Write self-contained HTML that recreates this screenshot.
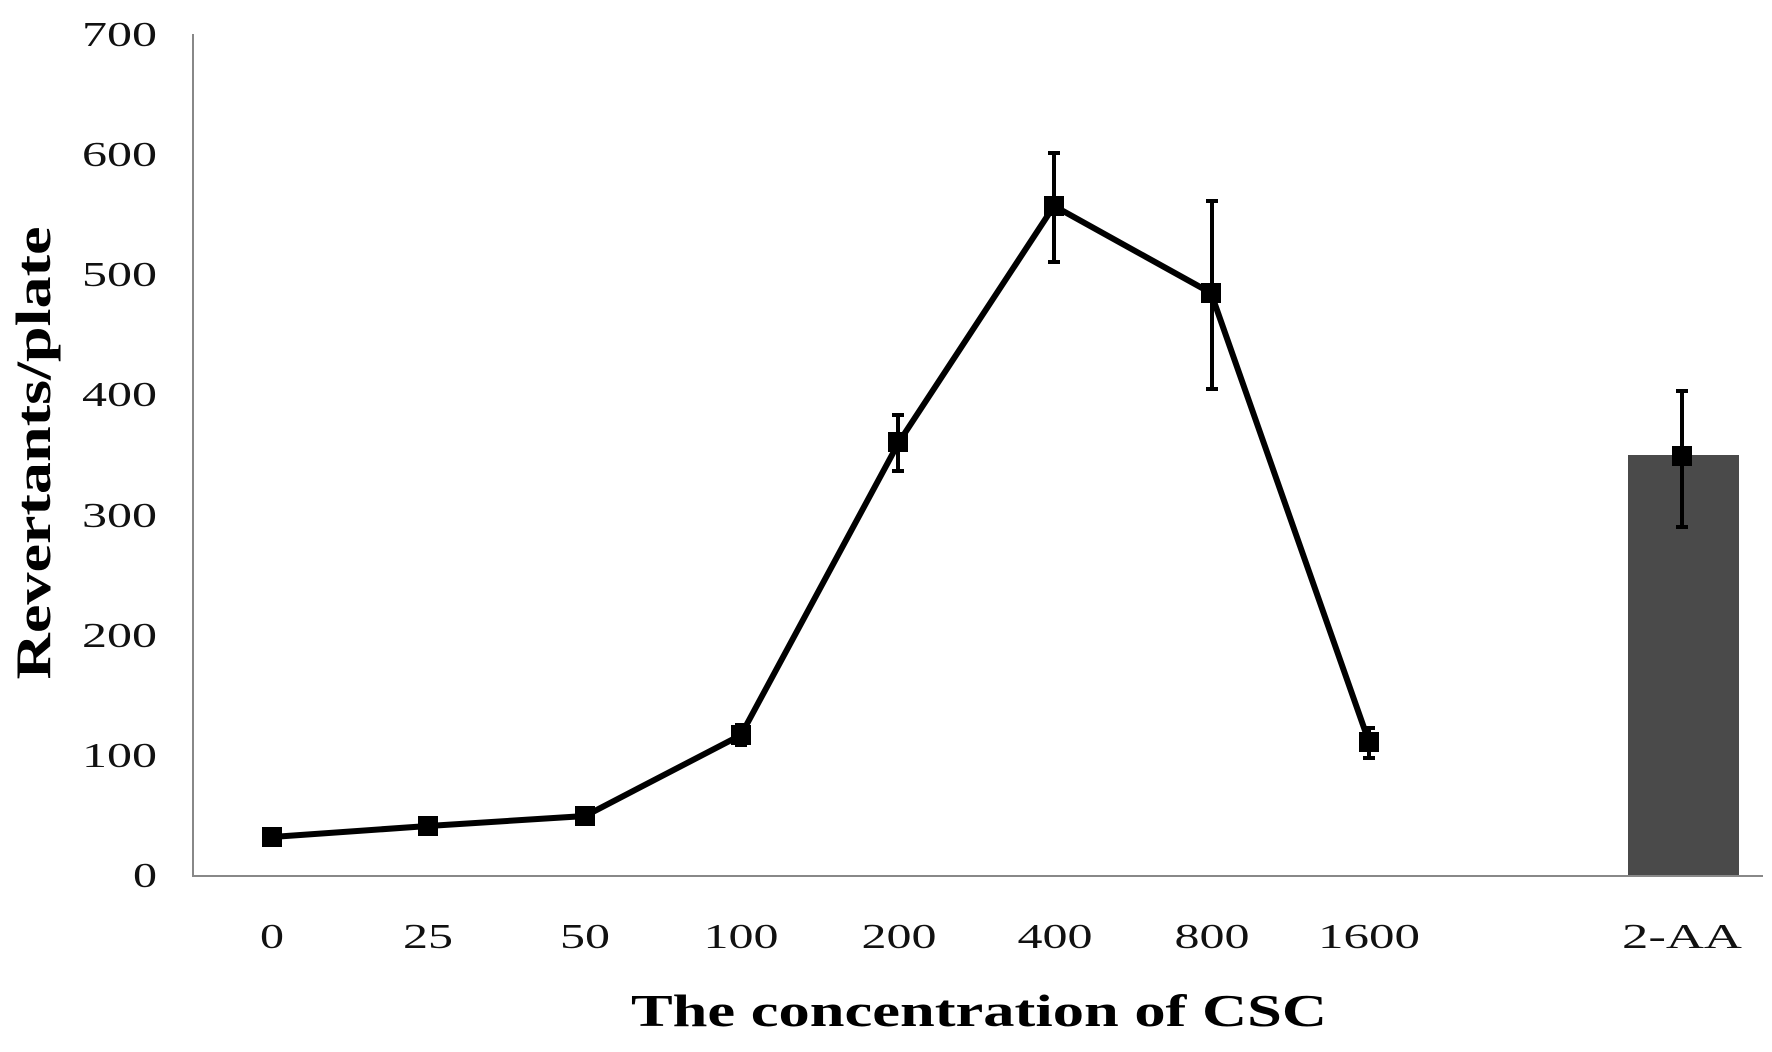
<!DOCTYPE html>
<html><head><meta charset="utf-8"><style>body{margin:0;background:#fff}svg{display:block}</style></head><body>
<svg width="1772" height="1052" xmlns="http://www.w3.org/2000/svg">
<rect width="1772" height="1052" fill="#fff"/>
<rect x="1628" y="455" width="111" height="420" fill="#4a4a4a"/>
<line x1="193" y1="34" x2="193" y2="876" stroke="#888" stroke-width="2"/>
<line x1="192" y1="876" x2="1763" y2="876" stroke="#888" stroke-width="2"/>
<g font-family="'Liberation Serif',serif" font-size="35" fill="#111" text-anchor="end" lengthAdjust="spacingAndGlyphs">
<text x="157" y="887" textLength="24" lengthAdjust="spacingAndGlyphs">0</text><text x="157" y="767" textLength="75" lengthAdjust="spacingAndGlyphs">100</text><text x="157" y="647" textLength="75" lengthAdjust="spacingAndGlyphs">200</text><text x="157" y="527" textLength="75" lengthAdjust="spacingAndGlyphs">300</text><text x="157" y="406" textLength="75" lengthAdjust="spacingAndGlyphs">400</text><text x="157" y="286" textLength="75" lengthAdjust="spacingAndGlyphs">500</text><text x="157" y="166" textLength="75" lengthAdjust="spacingAndGlyphs">600</text><text x="157" y="46" textLength="75" lengthAdjust="spacingAndGlyphs">700</text>
</g>
<g font-family="'Liberation Serif',serif" font-size="35" fill="#111" text-anchor="middle">
<text x="272" y="948" textLength="24" lengthAdjust="spacingAndGlyphs">0</text><text x="428" y="948" textLength="50" lengthAdjust="spacingAndGlyphs">25</text><text x="585" y="948" textLength="50" lengthAdjust="spacingAndGlyphs">50</text><text x="741" y="948" textLength="75" lengthAdjust="spacingAndGlyphs">100</text><text x="899" y="948" textLength="75" lengthAdjust="spacingAndGlyphs">200</text><text x="1055" y="948" textLength="75" lengthAdjust="spacingAndGlyphs">400</text><text x="1212" y="948" textLength="75" lengthAdjust="spacingAndGlyphs">800</text><text x="1369" y="948" textLength="102" lengthAdjust="spacingAndGlyphs">1600</text><text x="1682" y="948" textLength="120" lengthAdjust="spacingAndGlyphs">2-AA</text>
</g>
<text x="979" y="1026" font-family="'Liberation Serif',serif" font-weight="bold" font-size="46" text-anchor="middle" textLength="696" lengthAdjust="spacingAndGlyphs">The concentration of CSC</text>
<text transform="translate(50,453) rotate(-90)" font-family="'Liberation Serif',serif" font-weight="bold" font-size="50" text-anchor="middle" textLength="453" lengthAdjust="spacingAndGlyphs">Revertants/plate</text>
<polyline points="272,837 428,826 585,816 741,735 899,442 1054,206 1211,293 1369,742" fill="none" stroke="#000" stroke-width="6" stroke-linejoin="miter"/>
<g stroke="#000" stroke-width="4">
<path d="M741,725V745M735,725h12M735,745h12"/>
<path d="M898,415V471M892,415h12M892,471h12"/>
<path d="M1054,153V262M1048,153h12M1048,262h12"/>
<path d="M1212,201V389M1206,201h12M1206,389h12"/>
<path d="M1369,728V758M1363,728h12M1363,758h12"/>
<path d="M1682,391V527M1676,391h12M1676,527h12"/>
</g>
<g fill="#000">
<rect x="262" y="827" width="20" height="20"/><rect x="418" y="816" width="20" height="20"/><rect x="575" y="806" width="20" height="20"/><rect x="731" y="725" width="20" height="20"/><rect x="888" y="432" width="20" height="20"/><rect x="1044" y="196" width="20" height="20"/><rect x="1201" y="283" width="20" height="20"/><rect x="1359" y="732" width="20" height="20"/><rect x="1672" y="446" width="20" height="20"/>
</g>
</svg>
</body></html>
